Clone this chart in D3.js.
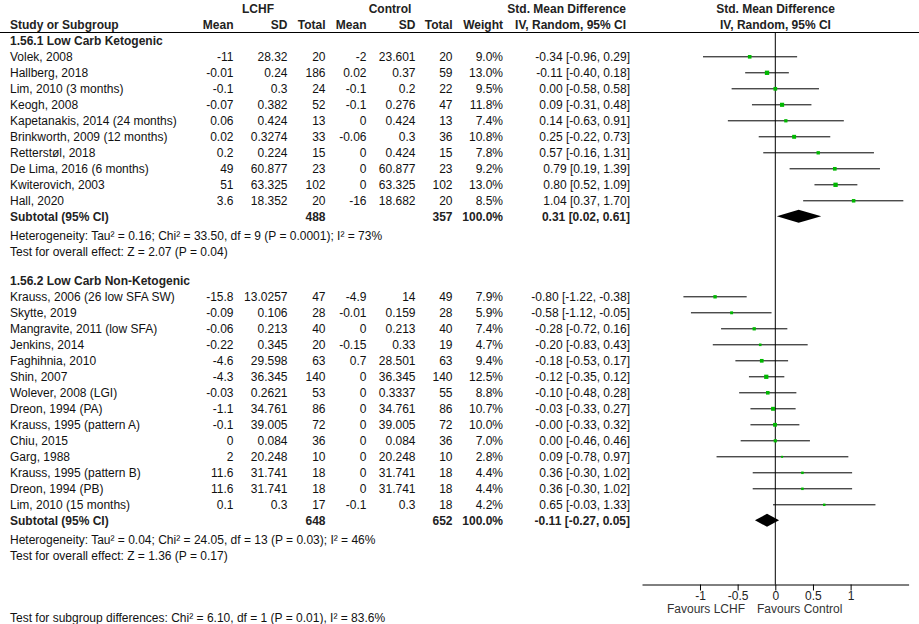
<!DOCTYPE html>
<html>
<head>
<meta charset="utf-8">
<script src="https://cdn.jsdelivr.net/npm/d3@7"></script>
<style>
  html, body { margin: 0; padding: 0; background: #fff; }
  svg { display: block; font-family: "Liberation Sans", Arial, sans-serif; }
  text { font-size: 12px; fill: #111; }
  .b { font-weight: bold; fill: #222; }
</style>
</head>
<body>
<svg id="chart" width="919" height="624"></svg>
<script>
// ---------------- DATA ----------------
const group1Title = "1.56.1 Low Carb Ketogenic";
const group1Studies = ["Volek, 2008", "Hallberg, 2018", "Lim, 2010 (3 months)", "Keogh, 2008", "Kapetanakis, 2014 (24 months)", "Brinkworth, 2009 (12 months)", "Retterstøl, 2018", "De Lima, 2016 (6 months)", "Kwiterovich, 2003", "Hall, 2020"];
const group1LchfMean = [-11, -0.01, -0.1, -0.07, 0.06, 0.02, 0.2, 49, 51, 3.6];
const group1LchfSD = [28.32, 0.24, 0.3, 0.382, 0.424, 0.3274, 0.224, 60.877, 63.325, 18.352];
const group1LchfN = [20, 186, 24, 52, 13, 33, 15, 23, 102, 20];
const group1CtrlMean = [-2, 0.02, -0.1, -0.1, 0, -0.06, 0, 0, 0, -16];
const group1CtrlSD = [23.601, 0.37, 0.2, 0.276, 0.424, 0.3, 0.424, 60.877, 63.325, 18.682];
const group1CtrlN = [20, 59, 22, 47, 13, 36, 15, 23, 102, 20];
const group1Weight = [9.0, 13.0, 9.5, 11.8, 7.4, 10.8, 7.8, 9.2, 13.0, 8.5];
const group1SMD = [-0.34, -0.11, 0.00, 0.09, 0.14, 0.25, 0.57, 0.79, 0.80, 1.04];
const group1Lo = [-0.96, -0.40, -0.58, -0.31, -0.63, -0.22, -0.16, 0.19, 0.52, 0.37];
const group1Hi = [0.29, 0.18, 0.58, 0.48, 0.91, 0.73, 1.31, 1.39, 1.09, 1.70];
const group1Subtotal = { lchfN: 488, ctrlN: 357, weight: 100.0, smd: 0.31, lo: 0.02, hi: 0.61 };
const group1Het = "Heterogeneity: Tau² = 0.16; Chi² = 33.50, df = 9 (P = 0.0001); I² = 73%";
const group1Test = "Test for overall effect: Z = 2.07 (P = 0.04)";

const group2Title = "1.56.2 Low Carb Non-Ketogenic";
const group2Studies = ["Krauss, 2006 (26 low SFA SW)", "Skytte, 2019", "Mangravite, 2011 (low SFA)", "Jenkins, 2014", "Faghihnia, 2010", "Shin, 2007", "Wolever, 2008 (LGI)", "Dreon, 1994 (PA)", "Krauss, 1995 (pattern A)", "Chiu, 2015", "Garg, 1988", "Krauss, 1995 (pattern B)", "Dreon, 1994 (PB)", "Lim, 2010 (15 months)"];
const group2LchfMean = [-15.8, -0.09, -0.06, -0.22, -4.6, -4.3, -0.03, -1.1, -0.1, 0, 2, 11.6, 11.6, 0.1];
const group2LchfSD = [13.0257, 0.106, 0.213, 0.345, 29.598, 36.345, 0.2621, 34.761, 39.005, 0.084, 20.248, 31.741, 31.741, 0.3];
const group2LchfN = [47, 28, 40, 20, 63, 140, 53, 86, 72, 36, 10, 18, 18, 17];
const group2CtrlMean = [-4.9, -0.01, 0, -0.15, 0.7, 0, 0, 0, 0, 0, 0, 0, 0, -0.1];
const group2CtrlSD = [14, 0.159, 0.213, 0.33, 28.501, 36.345, 0.3337, 34.761, 39.005, 0.084, 20.248, 31.741, 31.741, 0.3];
const group2CtrlN = [49, 28, 40, 19, 63, 140, 55, 86, 72, 36, 10, 18, 18, 18];
const group2Weight = [7.9, 5.9, 7.4, 4.7, 9.4, 12.5, 8.8, 10.7, 10.0, 7.0, 2.8, 4.4, 4.4, 4.2];
const group2SMD = [-0.80, -0.58, -0.28, -0.20, -0.18, -0.12, -0.10, -0.03, -0.004, 0.00, 0.09, 0.36, 0.36, 0.65];
const group2Lo = [-1.22, -1.12, -0.72, -0.83, -0.53, -0.35, -0.48, -0.33, -0.33, -0.46, -0.78, -0.30, -0.30, -0.03];
const group2Hi = [-0.38, -0.05, 0.16, 0.43, 0.17, 0.12, 0.28, 0.27, 0.32, 0.46, 0.97, 1.02, 1.02, 1.33];
const group2Subtotal = { lchfN: 648, ctrlN: 652, weight: 100.0, smd: -0.11, lo: -0.27, hi: 0.05 };
const group2Het = "Heterogeneity: Tau² = 0.04; Chi² = 24.05, df = 13 (P = 0.03); I² = 46%";
const group2Test = "Test for overall effect: Z = 1.36 (P = 0.17)";

const subgroupTest = "Test for subgroup differences: Chi² = 6.10, df = 1 (P = 0.01), I² = 83.6%";

const axisTicks = [-1, -0.5, 0, 0.5, 1];
const favoursLeft = "Favours LCHF";
const favoursRight = "Favours Control";

// ---------------- LAYOUT ----------------
const svg = d3.select("#chart");
const W = 919, H = 624;
const x = d3.scaleLinear().domain([-1.77, 1.77]).range([642, 908.6]);
const rowY = d3.scaleLinear().domain([0, 1]).range([56.3, 72.3]); // 16px per row
const TXT = 4.2; // baseline offset from row centre

const cols = { name: 10, lMean: 233.5, lSD: 287.5, lN: 325.5, cMean: 366.5, cSD: 415.5, cN: 452.5, weight: 503, ci: 630 };

function txt(xp, yp, s, anchor, cls) {
  const t = svg.append("text").attr("x", xp).attr("y", yp).attr("text-anchor", anchor || "start").text(s);
  if (cls) t.attr("class", cls);
  return t;
}
const ciLabel = (m, l, h) => `${m.toFixed(2)} [${l.toFixed(2)}, ${h.toFixed(2)}]`;

// Header
txt(258, 12.5, "LCHF", "middle", "b");
txt(390, 12.5, "Control", "middle", "b");
txt(626, 12.5, "Std. Mean Difference", "end", "b");
txt(775.5, 12.5, "Std. Mean Difference", "middle", "b");
txt(cols.name, 29, "Study or Subgroup", "start", "b");
txt(cols.lMean, 29, "Mean", "end", "b");
txt(cols.lSD, 29, "SD", "end", "b");
txt(cols.lN, 29, "Total", "end", "b");
txt(cols.cMean, 29, "Mean", "end", "b");
txt(cols.cSD, 29, "SD", "end", "b");
txt(cols.cN, 29, "Total", "end", "b");
txt(cols.weight, 29, "Weight", "end", "b");
txt(626, 29, "IV, Random, 95% CI", "end", "b");
txt(775.5, 29, "IV, Random, 95% CI", "middle", "b");
svg.append("line").attr("x1", 0).attr("x2", W).attr("y1", 32.5).attr("y2", 32.5).attr("stroke", "#000");

// zero line
svg.append("line").attr("x1", x(0)).attr("x2", x(0)).attr("y1", 32.5).attr("y2", 584.5).attr("stroke", "#000");

function drawGroup(startRow, title, names, lm, lsd, ln, cm, csd, cn, w, smd, lo, hi, sub, het, test) {
  txt(cols.name, rowY(startRow - 1) + TXT, title, "start", "b");
  names.forEach((n, i) => {
    const y = rowY(startRow + i);
    const yb = y + TXT;
    txt(cols.name, yb, n);
    txt(cols.lMean, yb, String(lm[i]), "end");
    txt(cols.lSD, yb, String(lsd[i]), "end");
    txt(cols.lN, yb, String(ln[i]), "end");
    txt(cols.cMean, yb, String(cm[i]), "end");
    txt(cols.cSD, yb, String(csd[i]), "end");
    txt(cols.cN, yb, String(cn[i]), "end");
    txt(cols.weight, yb, w[i].toFixed(1) + "%", "end");
    txt(cols.ci, yb, ciLabel(smd[i], lo[i], hi[i]), "end");
    svg.append("line").attr("x1", x(lo[i])).attr("x2", x(hi[i])).attr("y1", y + 0.5).attr("y2", y + 0.5).attr("stroke", "#000");
    const s = 1.2 * Math.sqrt(w[i]);
    svg.append("rect").attr("x", x(smd[i]) - s / 2).attr("y", y + 0.5 - s / 2).attr("width", s).attr("height", s).attr("fill", "#00b800");
  });
  const ys = rowY(startRow + names.length);
  const ysb = ys + TXT;
  txt(cols.name, ysb, "Subtotal (95% CI)", "start", "b");
  txt(cols.lN, ysb, String(sub.lchfN), "end", "b");
  txt(cols.cN, ysb, String(sub.ctrlN), "end", "b");
  txt(cols.weight, ysb, sub.weight.toFixed(1) + "%", "end", "b");
  txt(cols.ci, ysb, ciLabel(sub.smd, sub.lo, sub.hi), "end", "b");
  const hh = 6.5;
  svg.append("polygon")
    .attr("points", [[x(sub.lo), ys], [x(sub.smd), ys - hh], [x(sub.hi), ys], [x(sub.smd), ys + hh]].map(p => p.join(",")).join(" "))
    .attr("fill", "#000");
  txt(cols.name, ys + 19 + TXT, het);
  txt(cols.name, ys + 35 + TXT, test);
}

drawGroup(0, group1Title, group1Studies, group1LchfMean, group1LchfSD, group1LchfN, group1CtrlMean, group1CtrlSD, group1CtrlN, group1Weight, group1SMD, group1Lo, group1Hi, group1Subtotal, group1Het, group1Test);
drawGroup(15, group2Title, group2Studies, group2LchfMean, group2LchfSD, group2LchfN, group2CtrlMean, group2CtrlSD, group2CtrlN, group2Weight, group2SMD, group2Lo, group2Hi, group2Subtotal, group2Het, group2Test);

// Axis
const axis = d3.axisBottom(x).tickValues(axisTicks).tickSize(6).tickSizeOuter(0).tickPadding(1)
  .tickFormat(d => String(d));
const ag = svg.append("g").attr("transform", "translate(0,584.5)").call(axis);
ag.select(".domain").attr("stroke", "#000");
ag.selectAll(".tick line").attr("stroke", "#000");
ag.selectAll(".tick text").attr("font-size", 12).attr("font-family", null).style("fill", "#222");

txt(745, 612.5, favoursLeft, "end").style("fill", "#333");
txt(757, 612.5, favoursRight, "start").style("fill", "#333");

txt(cols.name, 617.5 + TXT, subgroupTest);
</script>
</body>
</html>
